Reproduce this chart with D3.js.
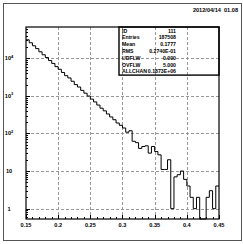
<!DOCTYPE html>
<html>
<head>
<meta charset="utf-8">
<script src="https://cdn.jsdelivr.net/npm/d3@7"></script>
<style>
body { margin: 0; background: #fff; }
svg { display: block; }
text { font-family: "Liberation Sans", Arial, sans-serif; font-weight: bold; fill: #000; }
</style>
</head>
<body>
<div id="app"></div>
<script>
// HBOOK style histogram, id 111.

var binStart = 0.15, binWidth = 0.005;
// bin contents (60 bins, 0.15 .. 0.45)
var counts = [31000, 25900, 21500, 18100, 14900, 12400, 10500, 8700, 7300, 6000,
	5100, 4200, 3450, 3000, 2450, 2000, 1720, 1400, 1180, 990,
	820, 690, 570, 470, 400, 330, 275, 232, 190, 165,
	140, 108, 118, 62, 57, 40, 45, 47, 30, 45,
	33, 27, 11, 11, 20, 1, 7, 8, 10, 6,
	4, 2, 1, 2, 0, 0, 2, 3, 1, 4];
var xTicks = [0.15, 0.2, 0.25, 0.3, 0.35, 0.4, 0.45];
var xTickLabels = ["0.15", "0.2", "0.25", "0.3", "0.35", "0.4", "0.45"];
var yDecades = [1, 10, 100, 1000, 10000];
var statLabels = ["ID", "Entries", "Mean", "RMS", "UDFLW", "OVFLW", "ALLCHAN"];
var statValues = ["111", "187508", "0.1777", "0.2740E-01", "0.000", "5.000", "0.1873E+06"];
var stamp = "2012/04/14  01.08";

var width = 243, height = 244;
var x0 = 26, x1 = 219, y0 = 27, y1 = 219;	// plot frame
var fs = 5.6;

var vis = d3.select("#app").append("svg")
	.attr("width", width).attr("height", height);

// outer page frame
vis.append("rect")
	.attr("x", 3.5).attr("y", 3.5).attr("width", 238).attr("height", 237)
	.attr("fill", "none").attr("stroke", "#555").attr("stroke-width", 1);

vis.append("text")
	.attr("x", 238).attr("y", 12)
	.style("text-anchor", "end").style("font-size", fs + "px")
	.style("white-space", "pre")
	.text(stamp);

var x = d3.scaleLinear().domain([0.15, 0.45]).range([x0, x1]);
var y = d3.scaleLog().domain([0.53, 68000]).range([y1, y0]).clamp(true);
function yv (v) { return v > 0 ? y(v) : y1; }

// dashed grid
var grid = vis.append("g")
	.attr("stroke", "#999").attr("stroke-width", 1).attr("stroke-dasharray", "3,2");
grid.selectAll("line.gx")
	.data(xTicks.slice(1, -1))
	.join("line")
	.attr("x1", d => Math.round(x(d)) + 0.5).attr("x2", d => Math.round(x(d)) + 0.5)
	.attr("y1", y0).attr("y2", y1);
grid.selectAll("line.gy")
	.data(yDecades)
	.join("line")
	.attr("x1", x0).attr("x2", x1)
	.attr("y1", d => Math.round(y(d)) + 0.5).attr("y2", d => Math.round(y(d)) + 0.5);

// histogram outline
var pts = counts.map((c, i) => [binStart + i * binWidth, c]);
pts.push([binStart + counts.length * binWidth, counts[counts.length - 1]]);
var line = d3.line()
	.x(d => x(d[0])).y(d => yv(d[1]))
	.curve(d3.curveStepAfter);
vis.append("path")
	.attr("d", line(pts))
	.attr("fill", "none").attr("stroke", "#000").attr("stroke-width", 1);

// axes, ticks inside
var xMinor = d3.range(0, 31).map(i => 0.15 + i * 0.01);
var ax = vis.append("g").attr("stroke", "#000").attr("stroke-width", 1);
ax.selectAll("line.xt")
	.data(xMinor)
	.join("line")
	.attr("x1", d => Math.round(x(d)) + 0.5).attr("x2", d => Math.round(x(d)) + 0.5)
	.attr("y1", y1).attr("y2", (d, i) => y1 - (i % 5 == 0 ? 4 : 2));
var yMinor = [];
yDecades.concat([100000]).forEach(function (dec) {
	for (var k = 1; k < 10; k++)
	{
		var v = dec / 10 * k;
		if (v >= 0.53 && v <= 68000) yMinor.push(v);
	}
});
ax.selectAll("line.yt")
	.data(yMinor)
	.join("line")
	.attr("x1", x0).attr("x2", d => x0 + (yDecades.indexOf(d) >= 0 ? 4 : 2))
	.attr("y1", d => Math.round(y(d)) + 0.5).attr("y2", d => Math.round(y(d)) + 0.5);

vis.append("rect")
	.attr("x", x0).attr("y", y0).attr("width", x1 - x0).attr("height", y1 - y0)
	.attr("fill", "none").attr("stroke", "#000").attr("stroke-width", 1.2);

// tick labels
vis.selectAll("text.xl")
	.data(xTicks)
	.join("text")
	.attr("x", d => x(d)).attr("y", y1 + 8)
	.style("text-anchor", "middle").style("font-size", fs + "px")
	.text((d, i) => xTickLabels[i]);
var yl = vis.selectAll("text.yl")
	.data(yDecades)
	.join("text")
	.attr("x", 9).attr("y", d => y(d) + 2)
	.style("text-anchor", "middle").style("font-size", fs + "px");
yl.each(function (d) {
	var e = Math.round(Math.log10(d)), t = d3.select(this);
	if (e < 2)
		t.text(String(d));
	else
	{
		t.append("tspan").text("10");
		t.append("tspan").attr("dy", -2.5).style("font-size", "4px").text(e);
	}
});

// statistics box
var bx0 = 119, by0 = 27, rowH = 6.8;
vis.append("rect")
	.attr("x", bx0).attr("y", by0).attr("width", x1 - bx0).attr("height", rowH * statLabels.length + 0.5)
	.attr("fill", "none").attr("stroke", "#000").attr("stroke-width", 1.4);
vis.selectAll("text.sl")
	.data(statLabels)
	.join("text")
	.attr("x", bx0 + 3).attr("y", (d, i) => by0 + 5.5 + i * rowH)
	.style("font-size", "5.2px")
	.text(d => d);
vis.selectAll("text.sv")
	.data(statValues)
	.join("text")
	.attr("x", 176).attr("y", (d, i) => by0 + 5.5 + i * rowH)
	.style("text-anchor", "end").style("font-size", "5.2px")
	.text(d => d);
</script>
</body>
</html>
